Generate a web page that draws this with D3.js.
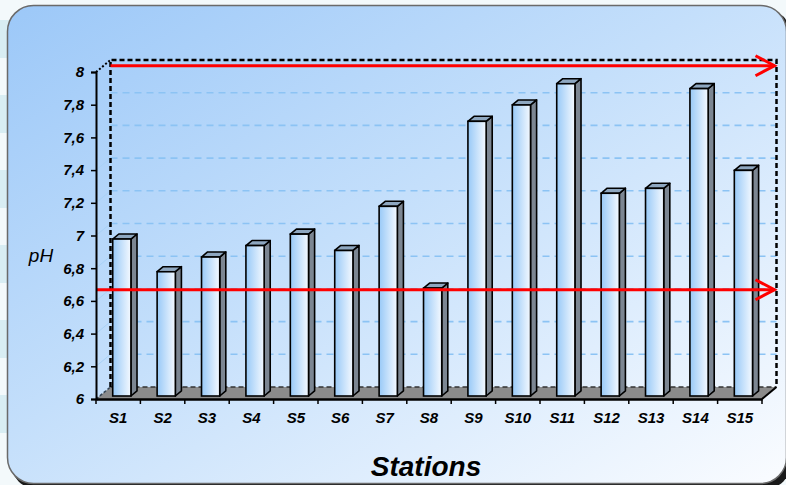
<!DOCTYPE html>
<html>
<head>
<meta charset="utf-8">
<script src="https://cdn.jsdelivr.net/npm/d3@7"></script>
<style>
  html, body { margin: 0; padding: 0; background: #f3f9fb; }
  svg { display: block; }
</style>
</head>
<body>
<div id="chart"></div>
<script>
// pH measured at each sampling station
const stations = ["S1","S2","S3","S4","S5","S6","S7","S8","S9","S10","S11","S12","S13","S14","S15"];
const phValues = [6.96, 6.76, 6.85, 6.92, 6.99, 6.89, 7.16, 6.66, 7.68, 7.78, 7.91, 7.24, 7.27, 7.88, 7.38];
// Axis ticks and the two reference levels drawn as red arrows
const yTicks = [6, 6.2, 6.4, 6.6, 6.8, 7, 7.2, 7.4, 7.6, 7.8, 8];
const limits = [6.65, 8.02];

const W = 786, H = 485;
const svg = d3.select("#chart").append("svg").attr("width", W).attr("height", H);
const defs = svg.append("defs");

// panel gradient
const pg = defs.append("linearGradient").attr("id", "panelGrad")
  .attr("x1", "0").attr("y1", "0").attr("x2", "1").attr("y2", "1");
pg.append("stop").attr("offset", "0%").attr("stop-color", "#9cc8f8");
pg.append("stop").attr("offset", "45%").attr("stop-color", "#c4dffb");
pg.append("stop").attr("offset", "100%").attr("stop-color", "#fafcff");

// bar front gradient
const bg = defs.append("linearGradient").attr("id", "barGrad")
  .attr("x1", "0").attr("y1", "0").attr("x2", "1").attr("y2", "0");
bg.append("stop").attr("offset", "0%").attr("stop-color", "#98c9f7");
bg.append("stop").attr("offset", "100%").attr("stop-color", "#f4f9ff");

// faint stripes behind the panel on the left edge
const stripeY = [20, 95, 170, 245, 320, 395];
svg.selectAll("rect.stripe").data(stripeY).join("rect")
  .attr("class", "stripe").attr("x", 0).attr("y", d => d).attr("width", 10).attr("height", 38)
  .attr("fill", "#d8edf3");

// panel with shadow
svg.append("rect").attr("x", 11).attr("y", 9).attr("width", 780).attr("height", 480)
  .attr("rx", 26).attr("fill", "#1a1a1a");
svg.append("rect").attr("x", 7.5).attr("y", 5.5).attr("width", 779).attr("height", 478)
  .attr("rx", 26).attr("fill", "url(#panelGrad)").attr("stroke", "#6a6a6a").attr("stroke-width", 1.5);

// 3D geometry: front plane scales plus a depth vector to the back wall
const x = d3.scaleBand().domain(stations).range([96, 762]).padding(0);
const y = d3.scaleLinear().domain([6, 8]).range([399, 72]);
const D = [14.5, -12];
const yBack = v => y(v) + D[1];
const x0 = x.range()[0], x1 = x.range()[1];

const g = svg.append("g");

// back wall gridlines
g.selectAll("line.grid").data(yTicks.filter(v => v > 6 && v < 8)).join("line")
  .attr("class", "grid")
  .attr("x1", x0 + D[0]).attr("x2", x1 + D[0])
  .attr("y1", d => yBack(d)).attr("y2", d => yBack(d))
  .attr("stroke", "#8cc3f4").attr("stroke-width", 1.6).attr("stroke-dasharray", "7,5");

// side wall gridlines
g.selectAll("line.side").data(yTicks.filter(v => v > 6 && v < 8)).join("line")
  .attr("class", "side")
  .attr("x1", x0).attr("x2", x0 + D[0])
  .attr("y1", d => y(d)).attr("y2", d => yBack(d))
  .attr("stroke", "#a9d2f7").attr("stroke-width", 1);

// floor
const floorPts = [[x0, y(6)], [x1, y(6)], [x1 + D[0], yBack(6)], [x0 + D[0], yBack(6)]];
g.append("polygon").attr("points", floorPts.map(p => p.join(",")).join(" "))
  .attr("fill", "#8b8b8b");
g.append("line").attr("x1", x0 + D[0]).attr("x2", x1 + D[0])
  .attr("y1", yBack(6)).attr("y2", yBack(6))
  .attr("stroke", "#333").attr("stroke-width", 1.5).attr("stroke-dasharray", "5,3");
g.append("line").attr("x1", x0).attr("y1", y(6)).attr("x2", x0 + D[0]).attr("y2", yBack(6))
  .attr("stroke", "#345").attr("stroke-width", 1.5).attr("stroke-dasharray", "3,2");
g.append("line").attr("x1", x1).attr("y1", y(6)).attr("x2", x1 + D[0]).attr("y2", yBack(6))
  .attr("stroke", "#000").attr("stroke-width", 2);

// back wall frame (dashed)
const frame = d3.path();
frame.moveTo(x0 + D[0], yBack(6));
frame.lineTo(x0 + D[0], yBack(8));
frame.lineTo(x1 + D[0], yBack(8));
frame.lineTo(x1 + D[0], yBack(6));
g.append("path").attr("d", frame.toString()).attr("fill", "none")
  .attr("stroke", "#000").attr("stroke-width", 2.5).attr("stroke-dasharray", "5,3");
g.append("line").attr("x1", x0).attr("y1", y(8)).attr("x2", x0 + D[0]).attr("y2", yBack(8))
  .attr("stroke", "#000").attr("stroke-width", 2).attr("stroke-dasharray", "2,2");

// bars
const fd = 0.25, bd = 0.42;
const barW = x.bandwidth() * 0.41;
const yBar = v => y(v) + D[1] * fd;
const bars = g.selectAll("g.bar").data(stations.map((s, i) => ({ s, v: phValues[i] }))).join("g")
  .attr("class", "bar");
const bx = d => x(d.s) + x.bandwidth() / 2 - barW / 2 + D[0] * fd;
const dx = D[0] * bd, dy = D[1] * bd;
bars.append("path")
  .attr("d", d => {
    const l = bx(d) + barW, t = yBar(d.v), b = yBar(6);
    return `M${l},${b}L${l},${t}L${l + dx},${t + dy}L${l + dx},${b + dy}Z`;
  })
  .attr("fill", "#7c8692").attr("stroke", "#000").attr("stroke-width", 1.6).attr("stroke-linejoin", "round");
bars.append("path")
  .attr("d", d => {
    const l = bx(d), t = yBar(d.v);
    return `M${l},${t}L${l + barW},${t}L${l + barW + dx},${t + dy}L${l + dx},${t + dy}Z`;
  })
  .attr("fill", "#8ea7c0").attr("stroke", "#000").attr("stroke-width", 1.6).attr("stroke-linejoin", "round");
bars.append("rect")
  .attr("x", d => bx(d)).attr("y", d => yBar(d.v))
  .attr("width", barW).attr("height", d => yBar(6) - yBar(d.v))
  .attr("fill", "url(#barGrad)").attr("stroke", "#000").attr("stroke-width", 1.6);

// red reference arrows
const tipX = x1 + D[0] - 2;
const starts = [x0 + 1, x0 + D[0]];
limits.forEach((v, i) => {
  const yy = yBar(v);
  g.append("line").attr("x1", starts[i]).attr("x2", tipX).attr("y1", yy).attr("y2", yy)
    .attr("stroke", "#ff0000").attr("stroke-width", 3);
  g.append("path").attr("d", `M${tipX - 19},${yy - 10}L${tipX},${yy}L${tipX - 19},${yy + 10}`)
    .attr("fill", "none").attr("stroke", "#ff0000").attr("stroke-width", 3)
    .attr("stroke-linejoin", "miter");
});

// axes
const fmt = v => d3.format(".1~f")(v).replace(".", ",");
const labelFont = "Liberation Sans, Arial, sans-serif";
const yAxis = d3.axisLeft(y).tickValues(yTicks).tickFormat(fmt).tickSize(5).tickPadding(7);
const ya = svg.append("g").attr("transform", `translate(${x0},0)`).call(yAxis);
ya.select(".domain").attr("stroke", "#000").attr("stroke-width", 2);
ya.selectAll(".tick line").attr("stroke", "#000").attr("stroke-width", 1.5);
ya.selectAll(".tick text").attr("font-family", labelFont)
  .attr("font-size", 15).attr("font-weight", "bold").attr("font-style", "italic").attr("fill", "#000");

const xAxis = d3.axisBottom(x).tickSize(0).tickPadding(13);
const xa = svg.append("g").attr("transform", `translate(0,${y(6)})`).call(xAxis);
xa.select(".domain").attr("stroke", "#000").attr("stroke-width", 2.5);
xa.selectAll(".tick text").attr("font-family", labelFont)
  .attr("font-size", 15).attr("font-weight", "bold").attr("font-style", "italic").attr("fill", "#000");
// category boundary ticks
xa.selectAll("line.bnd").data(stations.concat(["end"])).join("line")
  .attr("class", "bnd")
  .attr("x1", (d, i) => x0 + i * x.bandwidth()).attr("x2", (d, i) => x0 + i * x.bandwidth())
  .attr("y1", 0).attr("y2", 5).attr("stroke", "#000").attr("stroke-width", 1.5);

// axis titles
svg.append("text").attr("x", 41).attr("y", 262).attr("text-anchor", "middle")
  .attr("font-family", labelFont).attr("font-size", 19)
  .attr("font-style", "italic").attr("fill", "#000").text("pH");
svg.append("text").attr("x", 426).attr("y", 476).attr("text-anchor", "middle")
  .attr("font-family", labelFont).attr("font-size", 28)
  .attr("font-weight", "bold").attr("font-style", "italic").attr("fill", "#000").text("Stations");
</script>
</body>
</html>
